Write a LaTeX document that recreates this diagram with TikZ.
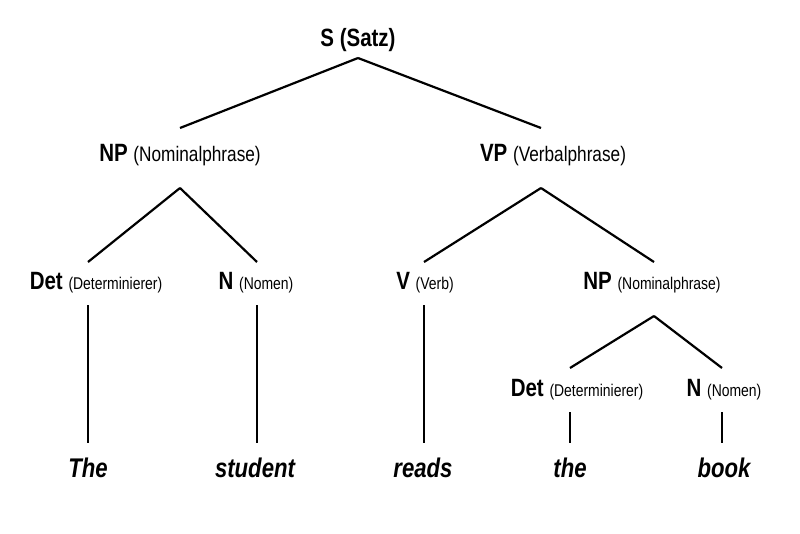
\documentclass[tikz,border=0pt]{standalone}
\usepackage{fontspec}
\setmainfont{Liberation Sans}[FakeStretch=0.82]
\newcommand\subsm{\fontsize{17}{20}\selectfont\mdseries}
\newcommand\subbg{\fontsize{21}{24}\selectfont\mdseries}
\begin{document}
\begin{tikzpicture}[x=1pt,y=-1pt,
  cat/.style={font=\fontsize{25}{28}\selectfont\bfseries, inner sep=0pt},
  word/.style={font=\fontsize{27}{30}\selectfont\bfseries\itshape, inner sep=0pt},
  edge/.style={line width=2.2pt}]
  \useasboundingbox (0,0) rectangle (800,533);
  \node[cat] (s) at (358,40) {S (Satz)};
  \node[cat] (np1) at (180,155) {NP {\subbg(Nominalphrase)}};
  \node[cat] (vp) at (553,155) {VP {\subbg(Verbalphrase)}};
  \node[cat] (det1) at (96,283) {Det {\subsm(Determinierer)}};
  \node[cat] (n1) at (256,283) {N {\subsm(Nomen)}};
  \node[cat] (v) at (425,283) {V {\subsm(Verb)}};
  \node[cat] (np2) at (652,283) {NP {\subsm(Nominalphrase)}};
  \node[cat] (det2) at (577,390) {Det {\subsm(Determinierer)}};
  \node[cat] (n2) at (724,390) {N {\subsm(Nomen)}};
  \node[word] (w1) at (88,468) {The};
  \node[word] (w2) at (255,468) {student};
  \node[word] (w3) at (423,468) {reads};
  \node[word] (w4) at (570,468) {the};
  \node[word] (w5) at (724,468) {book};
  % branches
  \draw[edge] ([yshift=-18pt]s.center) -- ([yshift=27pt]np1.center);
  \draw[edge] ([yshift=-18pt]s.center) -- ([xshift=-12pt,yshift=27pt]vp.center);
  \draw[edge] ([yshift=-33pt]np1.center) -- ([xshift=-8pt,yshift=21pt]det1.center);
  \draw[edge] ([yshift=-33pt]np1.center) -- ([xshift=1pt,yshift=21pt]n1.center);
  \draw[edge] ([xshift=-12pt,yshift=-33pt]vp.center) -- ([xshift=-1pt,yshift=21pt]v.center);
  \draw[edge] ([xshift=-12pt,yshift=-33pt]vp.center) -- ([xshift=2pt,yshift=21pt]np2.center);
  \draw[edge] ([xshift=2pt,yshift=-33pt]np2.center) -- ([xshift=-7pt,yshift=22pt]det2.center);
  \draw[edge] ([xshift=2pt,yshift=-33pt]np2.center) -- ([xshift=-2pt,yshift=22pt]n2.center);
  % leaves
  \draw[edge] ([xshift=-8pt,yshift=-22pt]det1.center) -- ([yshift=25pt]w1.center);
  \draw[edge] ([xshift=1pt,yshift=-22pt]n1.center) -- ([xshift=2pt,yshift=25pt]w2.center);
  \draw[edge] ([xshift=-1pt,yshift=-22pt]v.center) -- ([xshift=1pt,yshift=25pt]w3.center);
  \draw[edge] ([xshift=-7pt,yshift=-22pt]det2.center) -- ([yshift=25pt]w4.center);
  \draw[edge] ([xshift=-2pt,yshift=-22pt]n2.center) -- ([xshift=-2pt,yshift=25pt]w5.center);
\end{tikzpicture}
\end{document}
